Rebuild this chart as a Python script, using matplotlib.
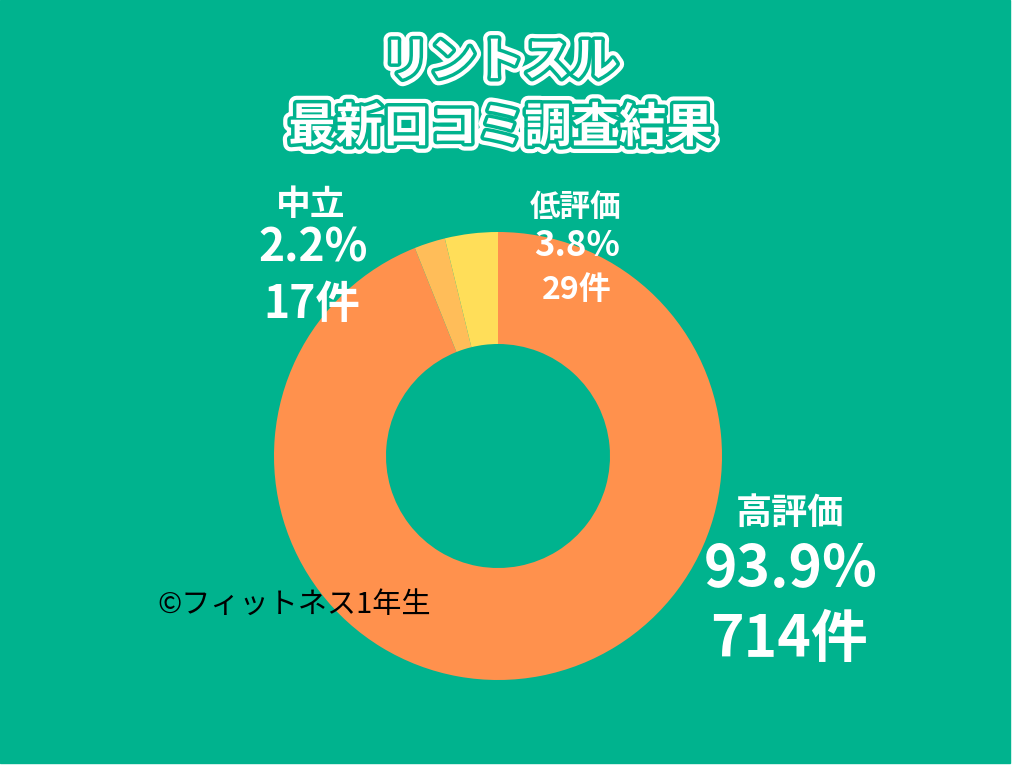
import matplotlib
matplotlib.use("Agg")
import matplotlib.pyplot as plt
import matplotlib.patheffects as pe
from matplotlib.patches import Rectangle

plt.rcParams['font.family'] = ['Noto Sans CJK JP', 'DejaVu Sans']

# データ
categories = ['高評価', '中立', '低評価']
counts = [714, 17, 29]
percents = ['93.9%', '2.2%', '3.8%']
colors = ['#FF914D', '#FFBD59', '#FFDE59']
title_lines = ['リントスル', '最新口コミ調査結果']
credit = '©フィットネス1年生'

BG = '#00B38E'
W, H = 1024, 768


def fx(x):
    return x / W


def fy(y):
    return 1 - y / H


fig = plt.figure(figsize=(W / 100, H / 100), dpi=100, facecolor='white')
# 緑の背景
fig.patches.append(Rectangle((0, fy(763)), fx(1010), 1 - fy(763),
                             transform=fig.transFigure, color=BG, zorder=-10))

# ドーナツ
cx, cy, r = 498, 456, 224
ax = fig.add_axes([fx(cx - r), fy(cy + r), 2 * r / W, 2 * r / H])
ax.pie(counts, colors=colors, startangle=90, counterclock=False,
       radius=1.0, wedgeprops=dict(width=0.5, linewidth=0))
ax.set_xlim(-1, 1)
ax.set_ylim(-1, 1)
ax.set_aspect('equal')
ax.axis('off')

# タイトル
outline = [pe.Stroke(linewidth=11, foreground='white'),
           pe.Stroke(linewidth=5, foreground=BG),
           pe.Normal()]
fig.text(fx(500), fy(62), title_lines[0], ha='center', va='center',
         fontsize=34, fontweight='bold', color='white', path_effects=outline)
fig.text(fx(501), fy(128), title_lines[1], ha='center', va='center',
         fontsize=34, fontweight='bold', color='white', path_effects=outline)

# ラベル
txt = dict(ha='center', va='center', color='white', fontweight='bold')
# 高評価
fig.text(fx(790), fy(513), categories[0], fontsize=26, **txt)
fig.text(fx(791), fy(570), percents[0], fontsize=41, **txt)
fig.text(fx(789), fy(640), f'{counts[0]}件', fontsize=41, **txt)
# 中立
fig.text(fx(311), fy(205), categories[1], fontsize=25, **txt)
fig.text(fx(313), fy(248), percents[1], fontsize=32, **txt)
fig.text(fx(312), fy(305), f'{counts[1]}件', fontsize=32, **txt)
# 低評価
fig.text(fx(576), fy(207), categories[2], fontsize=22, **txt)
fig.text(fx(577), fy(245), percents[2], fontsize=25, **txt)
fig.text(fx(577), fy(290), f'{counts[2]}件', fontsize=23, **txt)

fig.text(fx(294), fy(605), credit, ha='center', va='center',
         fontsize=21, color='black')

fig.savefig('out.png', dpi=100, facecolor=fig.get_facecolor())
